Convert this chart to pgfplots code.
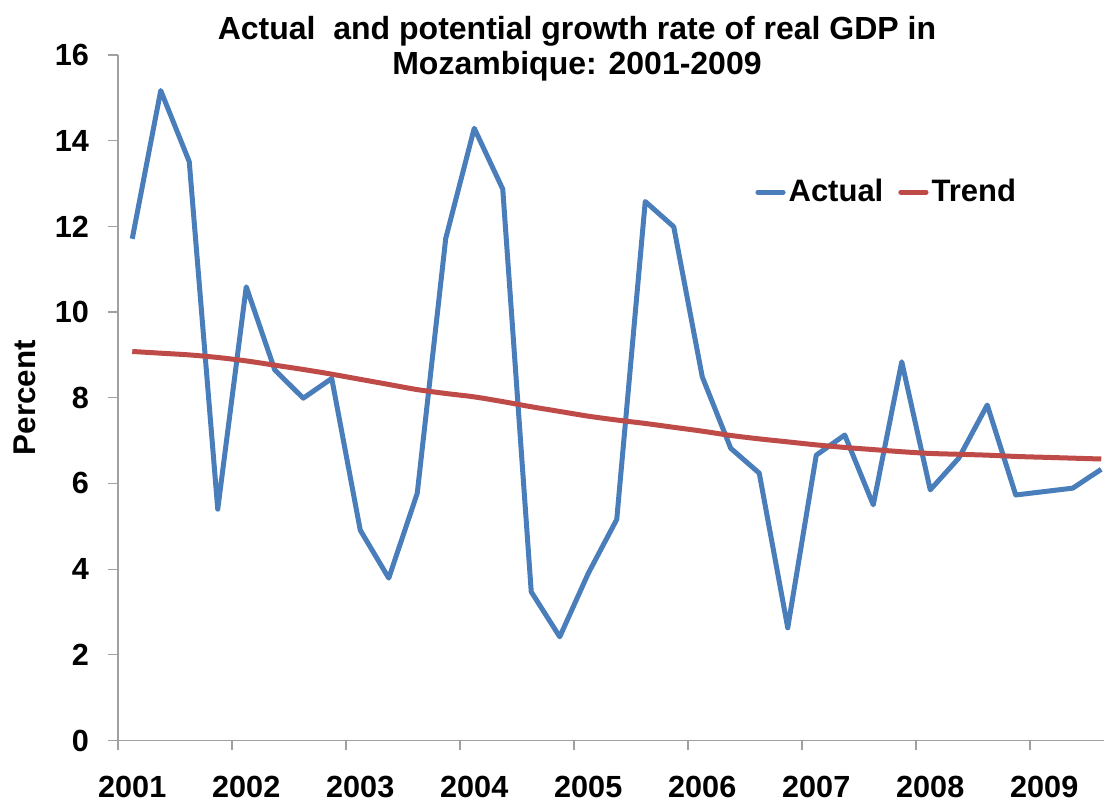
\documentclass[border=0pt]{standalone}
\usepackage{pgfplots}
\pgfplotsset{compat=1.18}
\usepackage{fontspec}
\setmainfont{Liberation Sans}
\definecolor{actualblue}{HTML}{4A7EBB}
\definecolor{trendred}{HTML}{BE4B48}
\definecolor{axisgray}{HTML}{A0A0A0}
\begin{document}
\begin{tikzpicture}
\begin{axis}[
  scale only axis,
  width=493.05pt, height=342.75pt,
  xmin=-0.5, xmax=34.1,
  ymin=0, ymax=16,
  axis x line=bottom, axis y line=left,
  axis line style={-, draw=axisgray, line width=0.6pt},
  tick style={draw=axisgray, line width=0.6pt},
  tick align=outside,
  major tick length=5pt,
  xtick={-0.5,3.5,...,31.5},
  xticklabels={2001,2002,2003,2004,2005,2006,2007,2008,2009},
  x tick label style={xshift=7.125pt, yshift=-12.5pt, inner sep=0pt},
  ytick={0,2,...,16},
  y tick label style={xshift=-6pt},
  /pgf/number format/assume math mode=true,
  ticklabel style={font=\fontsize{15.3}{18}\selectfont\bfseries},
  ylabel={Percent},
  ylabel style={font=\fontsize{15.7}{18}\selectfont\bfseries, yshift=2.5pt},
  clip=true,
  legend style={draw=none, fill=none, inner sep=0pt,
    at={(0.646,0.800)}, anchor=west,
    font=\fontsize{15.5}{18}\selectfont\bfseries,
    /tikz/every even column/.append style={column sep=6pt},
    nodes={inner sep=1.5pt}},
  legend columns=2,
  legend cell align=left,
  legend image code/.code={\draw[#1, line cap=round] (1.2pt,0pt) -- (13.8pt,0pt);},
]
\addplot[actualblue, line width=2.5pt, line join=round] coordinates {
(0,11.71) (1,15.17) (2,13.51) (3,5.40) (4,10.59) (5,8.65) (6,7.99) (7,8.45)
(8,4.91) (9,3.79) (10,5.77) (11,11.72) (12,14.29) (13,12.87) (14,3.47) (15,2.42)
(16,3.90) (17,5.16) (18,12.58) (19,11.99) (20,8.49) (21,6.82) (22,6.24) (23,2.63)
(24,6.66) (25,7.13) (26,5.50) (27,8.84) (28,5.85) (29,6.59) (30,7.83) (31,5.73)
(32,5.81) (33,5.89) (34,6.33)
};
\addlegendentry{Actual}
\addplot[trendred, line width=2.5pt, smooth, line join=round] coordinates {
(0,9.08) (1,9.04) (2,9.00) (3,8.94) (4,8.86) (5,8.76) (6,8.66) (7,8.55)
(8,8.43) (9,8.31) (10,8.19) (11,8.10) (12,8.02) (13,7.91) (14,7.79) (15,7.68)
(16,7.57) (17,7.48) (18,7.40) (19,7.31) (20,7.22) (21,7.12) (22,7.04) (23,6.97)
(24,6.90) (25,6.84) (26,6.79) (27,6.74) (28,6.70) (29,6.68) (30,6.66) (31,6.63)
(32,6.61) (33,6.59) (34,6.57)
};
\addlegendentry{Trend}
\end{axis}
\node[anchor=base, font=\fontsize{16}{18}\selectfont\bfseries] at (229.5pt,350.5pt) {Actual\ \ and potential growth rate of real GDP in};
\node[anchor=base, font=\fontsize{16}{18}\selectfont\bfseries] at (229.5pt,333pt) {Mozambique: 2001-2009};
\pgfresetboundingbox
\path[use as bounding box] (-59pt,-31.25pt) rectangle (493.5pt,370.25pt);
\end{tikzpicture}
\end{document}
